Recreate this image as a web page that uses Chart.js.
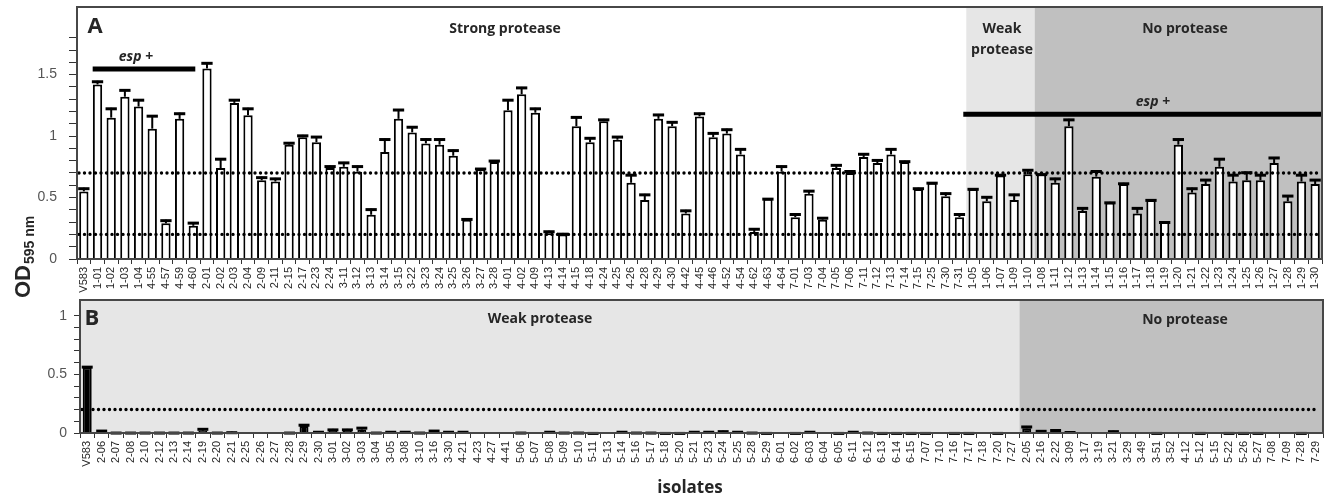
<!DOCTYPE html>
<html><head><meta charset="utf-8">
<script src="https://cdn.jsdelivr.net/npm/chart.js@4.4.1/dist/chart.umd.min.js"></script>
<style>
html,body{margin:0;padding:0;background:#fff;width:1328px;height:499px;overflow:hidden}
canvas{position:absolute;left:0}
#cA{top:0}
#cB{top:298px}
</style></head><body>
<canvas id="cA" width="1328" height="300"></canvas>
<canvas id="cB" width="1328" height="201"></canvas>
<script>
// ---------- Panel A data ----------
const labelsA = ['V583','1-01','1-02','1-03','1-04','4-55','4-57','4-59','4-60','2-01','2-02','2-03','2-04','2-09','2-11','2-15','2-17','2-23','2-24','3-11','3-12','3-13','3-14','3-15','3-22','3-23','3-24','3-25','3-26','3-27','3-28','4-01','4-02','4-09','4-13','4-14','4-15','4-18','4-24','4-25','4-26','4-28','4-29','4-30','4-42','4-45','4-46','4-52','4-54','4-62','4-63','4-64','7-01','7-03','7-04','7-05','7-06','7-11','7-12','7-13','7-14','7-15','7-25','7-30','7-31','1-05','1-06','1-07','1-09','1-10','1-08','1-11','1-12','1-13','1-14','1-15','1-16','1-17','1-18','1-19','1-20','1-21','1-22','1-23','1-24','1-25','1-26','1-27','1-28','1-29','1-30'];
const valuesA = [0.55,1.42,1.15,1.32,1.24,1.06,0.29,1.14,0.27,1.55,0.74,1.27,1.17,0.64,0.63,0.93,0.99,0.95,0.74,0.75,0.71,0.36,0.87,1.14,1.03,0.94,0.93,0.84,0.32,0.73,0.79,1.21,1.34,1.19,0.21,0.20,1.08,0.95,1.12,0.97,0.62,0.48,1.14,1.08,0.37,1.16,0.99,1.02,0.85,0.22,0.49,0.71,0.34,0.53,0.32,0.74,0.70,0.83,0.78,0.85,0.79,0.57,0.62,0.51,0.34,0.57,0.47,0.68,0.48,0.69,0.69,0.62,1.08,0.39,0.67,0.46,0.61,0.37,0.48,0.30,0.93,0.54,0.61,0.75,0.63,0.64,0.64,0.78,0.47,0.63,0.61];
const errorsA = [0.03,0.03,0.08,0.06,0.06,0.11,0.03,0.05,0.03,0.05,0.08,0.03,0.06,0.03,0.03,0.02,0.02,0.05,0.02,0.04,0.05,0.05,0.11,0.08,0.05,0.04,0.05,0.05,0.01,0.01,0.015,0.09,0.06,0.04,0.02,0.01,0.08,0.04,0.02,0.03,0.07,0.05,0.04,0.04,0.03,0.03,0.04,0.04,0.05,0.03,0.005,0.05,0.03,0.03,0.02,0.03,0.02,0.03,0.03,0.05,0.01,0.01,0.005,0.03,0.03,0.005,0.04,0.01,0.05,0.04,0.005,0.04,0.06,0.03,0.05,0.005,0.01,0.05,0.005,0.005,0.05,0.04,0.04,0.07,0.06,0.07,0.05,0.05,0.05,0.06,0.04];
const groupsA = {weakStart: 65, noStart: 70};
const espA = [[1, 8], [65, 90]];
const thresholdsA = [0.7, 0.2];

// ---------- Panel B data ----------
const labelsB = ['V583','2-06','2-07','2-08','2-10','2-12','2-13','2-14','2-19','2-20','2-21','2-25','2-26','2-27','2-28','2-29','2-30','3-01','3-02','3-03','3-04','3-05','3-08','3-10','3-16','3-30','4-21','4-23','4-27','4-41','5-06','5-07','5-08','5-09','5-10','5-11','5-13','5-14','5-16','5-17','5-18','5-20','5-21','5-23','5-24','5-25','5-28','5-29','6-01','6-02','6-03','6-04','6-05','6-11','6-12','6-13','6-14','6-15','7-07','7-10','7-16','7-17','7-18','7-20','7-27','2-05','2-16','2-22','3-09','3-17','3-19','3-21','3-29','3-49','3-51','3-52','4-12','5-12','5-15','5-22','5-26','5-27','7-08','7-09','7-28','7-29'];
const valuesB = [0.56,0.015,0.005,0.005,0.005,0.005,0.005,0.005,0.02,0.005,0.008,0,0,0,0.005,0.06,0.01,0.02,0.02,0.03,0.005,0.01,0.01,0.005,0.01,0.01,0.01,0,0,0,0.005,0,0.01,0.005,0.005,0.003,0,0.01,0.005,0.005,0.003,0.003,0.01,0.01,0.015,0.01,0.005,0.003,0,0.003,0.01,0,0.003,0.01,0.005,0.003,0.003,0.003,0.003,0,0.003,0.003,0,0.003,0,0.04,0.015,0.02,0.008,0,0,0.01,0,0,0.003,0,0,0.003,0,0.003,0.003,0.003,0,0,0.003,0];
const errorsB = [0.01,0.01,0.003,0.003,0.003,0.003,0.003,0.003,0.02,0.003,0.003,0,0,0,0.003,0.015,0.005,0.015,0.015,0.02,0.003,0.005,0.005,0.003,0.015,0.005,0.005,0,0,0,0.003,0,0.005,0.003,0.003,0.002,0,0.005,0.003,0.003,0.002,0.002,0.005,0.005,0.005,0.005,0.003,0.002,0,0.002,0.005,0,0.002,0.005,0.003,0.002,0.002,0.002,0.002,0,0.002,0.002,0,0.002,0,0.02,0.008,0.01,0.005,0,0,0.01,0,0,0.002,0,0,0.002,0,0.002,0.002,0.002,0,0,0.002,0];
const groupsB = {noStart: 65};
const thresholdsB = [0.2];

const FRAME = '#474747';
const TXT = '#262626';
const REGION_FONT = 'bold 14px "Open Sans"';

function halfCat(x) { return (x.getPixelForValue(1) - x.getPixelForValue(0)) / 2; }

function drawErrors(chart, errs) {
  const ctx = chart.ctx, y = chart.scales.y;
  const meta = chart.getDatasetMeta(0);
  const vals = chart.data.datasets[0].data;
  ctx.save();
  ctx.strokeStyle = '#000';
  meta.data.forEach((bar, i) => {
    const e = errs[i];
    if (!e) return;
    const y0 = y.getPixelForValue(vals[i]);
    const y1 = y.getPixelForValue(vals[i] + e);
    const hw = bar.width / 2 + 1;
    ctx.lineWidth = 2;
    ctx.beginPath(); ctx.moveTo(bar.x, y0); ctx.lineTo(bar.x, y1); ctx.stroke();
    ctx.lineWidth = 3;
    ctx.beginPath(); ctx.moveTo(bar.x - hw, y1 + 1); ctx.lineTo(bar.x + hw, y1 + 1); ctx.stroke();
  });
  ctx.restore();
}

function drawDotted(chart, values, rightInset) {
  const ctx = chart.ctx, a = chart.chartArea, y = chart.scales.y;
  ctx.save();
  ctx.strokeStyle = '#000';
  ctx.lineWidth = 3.4;
  ctx.lineCap = 'round';
  ctx.setLineDash([0, 5.5]);
  values.forEach(v => {
    const py = y.getPixelForValue(v);
    ctx.beginPath(); ctx.moveTo(a.left + 2, py); ctx.lineTo(a.right - rightInset, py); ctx.stroke();
  });
  ctx.restore();
}

function frame(chart) {
  const ctx = chart.ctx, a = chart.chartArea;
  ctx.save();
  ctx.strokeStyle = FRAME; ctx.lineWidth = 2;
  ctx.strokeRect(a.left, a.top, a.right - a.left, a.bottom - a.top);
  ctx.restore();
}

function centerText(ctx, txt, x, y, font) {
  ctx.font = font; ctx.fillStyle = TXT; ctx.textAlign = 'center'; ctx.textBaseline = 'middle';
  ctx.fillText(txt, x, y);
}

function espLabel(ctx, cx, cy) {
  const f1 = 'italic bold 14px "Open Sans"', f2 = 'bold 14px "Open Sans"';
  ctx.font = f1; const w1 = ctx.measureText('esp').width;
  ctx.font = f2; const w2 = ctx.measureText(' +').width;
  let x = cx - (w1 + w2) / 2;
  ctx.fillStyle = TXT; ctx.textAlign = 'left'; ctx.textBaseline = 'middle';
  ctx.font = f1; ctx.fillText('esp', x, cy);
  ctx.font = f2; ctx.fillText(' +', x + w1, cy);
}

const pluginA = {
  id: 'panelA',
  beforeDatasetsDraw(chart) {
    const ctx = chart.ctx, a = chart.chartArea, x = chart.scales.x;
    const h = halfCat(x);
    const xw = x.getPixelForValue(groupsA.weakStart) - h;
    const xn = x.getPixelForValue(groupsA.noStart) - h;
    ctx.save();
    ctx.fillStyle = '#e6e6e6'; ctx.fillRect(xw, a.top, xn - xw, a.bottom - a.top);
    ctx.fillStyle = '#c0c0c0'; ctx.fillRect(xn, a.top, a.right - xn, a.bottom - a.top);
    ctx.restore();
  },
  afterDatasetsDraw(chart) {
    const ctx = chart.ctx, a = chart.chartArea, x = chart.scales.x, y = chart.scales.y;
    drawErrors(chart, errorsA);
    drawDotted(chart, thresholdsA, 2);
    const h = halfCat(x);
    ctx.save();
    ctx.strokeStyle = '#000'; ctx.lineWidth = 5;
    // esp+ bars
    let yE = y.getPixelForValue(1.545);
    ctx.beginPath(); ctx.moveTo(x.getPixelForValue(espA[0][0]) - h + 2, yE); ctx.lineTo(x.getPixelForValue(espA[0][1]) + 2, yE); ctx.stroke();
    let yE2 = y.getPixelForValue(1.178);
    ctx.beginPath(); ctx.moveTo(x.getPixelForValue(espA[1][0]) - h - 3, yE2); ctx.lineTo(a.right, yE2); ctx.stroke();
    espLabel(ctx, 136, 57);
    espLabel(ctx, 1153, 102);
    // region labels
    centerText(ctx, 'A', 95, 27, 'bold 22px "Open Sans"');
    centerText(ctx, 'Strong protease', 505, 29, REGION_FONT);
    centerText(ctx, 'Weak', 1002, 29, REGION_FONT);
    centerText(ctx, 'protease', 1002, 50, REGION_FONT);
    centerText(ctx, 'No protease', 1185, 29, REGION_FONT);
    // y axis title OD595 nm
    ctx.translate(30, 298);
    ctx.rotate(-Math.PI / 2);
    ctx.fillStyle = TXT; ctx.textAlign = 'left'; ctx.textBaseline = 'alphabetic';
    ctx.font = 'bold 22px "Liberation Sans"';
    ctx.fillText('OD', 0, 0);
    const w = ctx.measureText('OD').width;
    ctx.font = 'bold 14px "Liberation Sans"';
    ctx.fillText('595 nm', w + 1, 4);
    ctx.restore();
  },
  afterDraw(chart) { frame(chart); }
};

const pluginB = {
  id: 'panelB',
  beforeDatasetsDraw(chart) {
    const ctx = chart.ctx, a = chart.chartArea, x = chart.scales.x;
    const h = halfCat(x);
    const xn = x.getPixelForValue(groupsB.noStart) - h;
    ctx.save();
    ctx.fillStyle = '#e6e6e6'; ctx.fillRect(a.left, a.top, xn - a.left, a.bottom - a.top);
    ctx.fillStyle = '#c0c0c0'; ctx.fillRect(xn, a.top, a.right - xn, a.bottom - a.top);
    ctx.restore();
  },
  afterDatasetsDraw(chart) {
    const ctx = chart.ctx;
    drawErrors(chart, errorsB);
    drawDotted(chart, thresholdsB, 8);
    ctx.save();
    centerText(ctx, 'B', 92, 21, 'bold 22px "Open Sans"');
    centerText(ctx, 'Weak protease', 540, 21, REGION_FONT);
    centerText(ctx, 'No protease', 1185, 22, REGION_FONT);
    centerText(ctx, 'isolates', 690, 190, 'bold 17px "Open Sans"');
    ctx.restore();
  },
  afterDraw(chart) { frame(chart); }
};

function yTickLabel(v) {
  return Math.abs(v * 2 - Math.round(v * 2)) < 1e-6 ? String(Math.round(v * 10) / 10) : '';
}

function makeChart(id, labels, values, fill, barPct, yMax, yTop, yWidth, xHeight, padTop, padRight, tickLen, tickPad, plugin) {
  return new Chart(document.getElementById(id), {
    type: 'bar',
    data: { labels: labels, datasets: [{ data: values, backgroundColor: fill, borderColor: '#000', borderWidth: 2, borderSkipped: 'start', barPercentage: barPct, categoryPercentage: 1 }] },
    options: {
      responsive: false, animation: false,
      layout: { padding: { top: padTop, right: padRight, left: 0, bottom: 0 } },
      plugins: { legend: { display: false }, tooltip: { enabled: false } },
      scales: {
        x: {
          grid: { display: true, drawOnChartArea: false, drawTicks: true, tickLength: 5, color: '#333', offset: true },
          border: { display: true, color: FRAME, width: 2 },
          ticks: { autoSkip: false, maxRotation: 90, minRotation: 90, padding: 3, color: TXT, font: { family: '"Liberation Sans"', size: 11 } },
          afterFit(s) { s.height = xHeight; s.paddingLeft = 0; s.paddingRight = 0; }
        },
        y: {
          min: 0, max: yMax,
          grid: { display: true, drawOnChartArea: false, drawTicks: true, tickLength: tickLen, color: '#333' },
          border: { display: true, color: FRAME, width: 2 },
          ticks: { stepSize: 0.1, autoSkip: false, padding: tickPad, color: '#555', font: { family: '"Liberation Sans"', size: 14 }, callback: yTickLabel },
          afterBuildTicks(s) { s.ticks = s.ticks.filter(t => t.value <= yTop + 1e-6); },
          afterFit(s) { s.width = yWidth; s.paddingTop = 0; s.paddingBottom = 0; }
        }
      }
    },
    plugins: [plugin]
  });
}

makeChart('cA', labelsA, valuesA, '#ffffff', 0.68, 2.05, 1.8, 77, 41, 7, 6, 8, 12, pluginA);
makeChart('cB', labelsB, valuesB, '#000000', 0.62, 1.134, 1.0, 80, 66, 2, 5, 6, 7, pluginB);
</script>
</body></html>
